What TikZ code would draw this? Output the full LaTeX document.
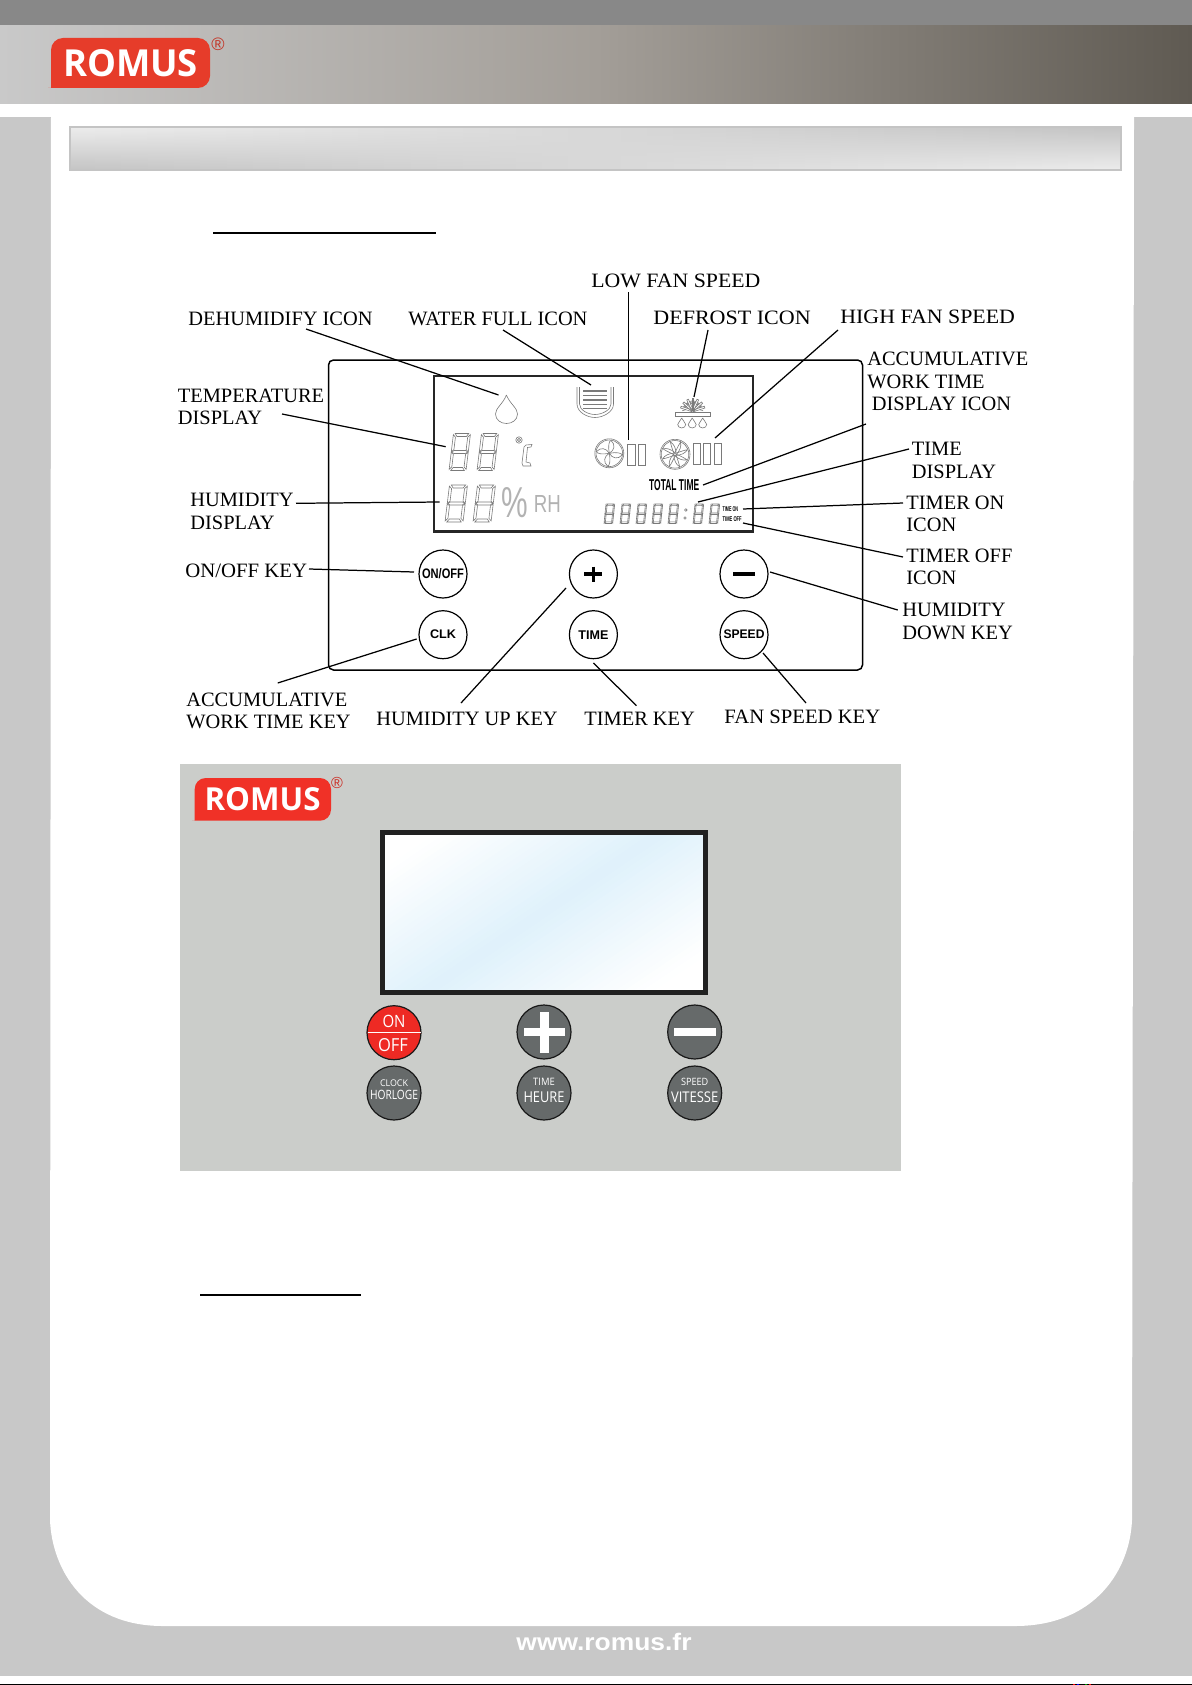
\documentclass[tikz,border=0pt]{standalone}
\usepackage{fontspec}
\usepackage{graphicx}
\setmainfont{Liberation Serif}
\newfontfamily\lsans{Liberation Sans}
\newfontfamily\osans{Open Sans}
\definecolor{pageGray}{HTML}{C8C8C8}
\definecolor{topBar}{HTML}{888888}
\definecolor{headL}{HTML}{C9C9C9}
\definecolor{headM}{HTML}{A39E98}
\definecolor{headR}{HTML}{5F5A52}
\definecolor{barLight}{HTML}{ECECEC}
\definecolor{barDark}{HTML}{C4C4C4}
\definecolor{logoA}{HTML}{E63C2A}
\definecolor{logoB}{HTML}{F03127}
\definecolor{panelGray}{HTML}{CBCDCA}
\definecolor{keyGray}{HTML}{666A6A}
\definecolor{keyRed}{HTML}{EE2A24}
\definecolor{lcdBlue}{HTML}{DFF1FB}
\definecolor{segGray}{HTML}{7A7A7A}
\newcommand\fitbox[3]{\resizebox{\dimexpr #1pt*1/2\relax}{\dimexpr #2pt*1/2\relax}{#3}}
\newcommand\lcddigit[5]{%
\begin{scope}[shift={(#1+#5,#2)},x={(#3*.5pt,0pt)},y={(-#5*.5pt,-#4*.5pt)}]
\draw[segline] (.1,0)--(.9,0)--(.78,.08)--(.22,.08)--cycle;
\draw[segline] (0,.03)--(.14,.1)--(.14,.44)--(0,.49)--cycle;
\draw[segline] (1,.03)--(.86,.1)--(.86,.44)--(1,.49)--cycle;
\draw[segline] (.03,.5)--(.16,.46)--(.84,.46)--(.97,.5)--(.84,.54)--(.16,.54)--cycle;
\draw[segline] (0,.51)--(.14,.56)--(.14,.9)--(0,.97)--cycle;
\draw[segline] (1,.51)--(.86,.56)--(.86,.9)--(1,.97)--cycle;
\draw[segline] (.1,1)--(.9,1)--(.78,.92)--(.22,.92)--cycle;
\end{scope}}
\newcommand\smalldrop[2]{%
\draw[segline] (#1,#2) .. controls (#1-1,#2+3) and (#1-4,#2+4.5) .. (#1-4,#2+6.5) .. controls (#1-4,#2+8.5) and (#1-2,#2+10) .. (#1,#2+10) .. controls (#1+2,#2+10) and (#1+4,#2+8.5) .. (#1+4,#2+6.5) .. controls (#1+4,#2+4.5) and (#1+1,#2+3) .. (#1,#2);}
\tikzset{
  lbl/.style={anchor=west,inner sep=0pt,align=left,yshift=-.5pt,font=\fontsize{10.2}{11.25}\selectfont},
  conn/.style={draw=black,line width=.62pt},
  segline/.style={draw=segGray,line width=.3pt},
  keyUp/.style={circle,draw=black,line width=.6pt,fill=white,minimum size=24pt,inner sep=0pt,font=\lsans\bfseries},
  keyLow/.style={circle,draw=black!90,line width=.6pt,fill=keyGray,minimum size=27pt,inner sep=0pt},
  keyText/.style={inner sep=0pt,text=white,font=\osans},
  bar/.style={draw=segGray,line width=.65pt},
  rule/.style={draw=black,line width=1pt},
}
\begin{document}
\begin{tikzpicture}[x=.5pt,y=-.5pt]
\useasboundingbox (0,0) rectangle (1192,1685);
% page furniture
\fill[white] (0,0) rectangle (1192,1685);
\fill[topBar] (0,0) rectangle (1192,26);
\shade[left color=headL,right color=headM] (0,26) rectangle (596,104);
\shade[left color=headM,right color=headR] (596,26) rectangle (1192,104);
\fill[pageGray] (0,117) rectangle (1192,1676);
\fill[white] (51,117) -- (1134,117) -- (1132,1520) .. controls (1130,1570) and (1095,1626) .. (1015,1626) -- (163,1626) .. controls (85,1626) and (52,1570) .. (50,1520) -- cycle;
\fill[black] (0,1683.5) rectangle (1192,1685);
\fill[red] (1073,1683.5) rectangle (1074.5,1685);
\fill[blue] (1077,1683.5) rectangle (1078.5,1685);
\fill[green!60!black] (1085,1683.5) rectangle (1086.5,1685);
\fill[red] (1089,1683.5) rectangle (1090.5,1685);
% title bar
\foreach \i in {0,...,39}{
  \pgfmathsetmacro\xa{69+\i*26.3}
  \pgfmathsetmacro\xb{\xa+27}
  \pgfmathsetmacro\pc{100*(1-\i/39)}
  \shade[top color=barLight!\pc!barDark,bottom color=barDark!\pc!barLight] (\xa,127) rectangle (\xb,170);
}
\draw[barDark,line width=1pt] (70,127) rectangle (1120.5,170);
% logo top
\fill[logoA,rounded corners=6pt] (51,75) -- (51,38) -- (210,38) -- (210,88) -- (60,88) [sharp corners] -- (51,88) -- cycle;
\node[inner sep=0pt,text=white,font=\osans\bfseries] (logoTop) at (130.5,63.5) {\fitbox{135}{27}{ROMUS}};
\node[inner sep=0pt,text=logoA!85!black,font=\lsans\fontsize{9}{9}\selectfont] (regTop) at (218,44) {®};
% section rules
\coordinate (ruleAa) at (213,233);
\coordinate (ruleAb) at (436,233);
\draw[rule] (ruleAa) -- (ruleAb);
\coordinate (ruleBa) at (200,1295);
\coordinate (ruleBb) at (361,1295);
\draw[rule] (ruleBa) -- (ruleBb);
% control panel
\draw[black,line width=.75pt,rounded corners=2.5pt] (328.5,360) rectangle (862.5,670);
\draw[black!85,line width=1.3pt] (434,376) rectangle (753,531.5);
% digits
\lcddigit{449}{433.5}{17}{37}{4.5}
\lcddigit{477}{433.5}{17}{37}{4.5}
\lcddigit{445}{485}{18}{37}{4.5}
\lcddigit{473}{485}{18}{37}{4.5}
\foreach \dx in {604,620,636,652,668,693,709}{\lcddigit{\dx}{504}{8.7}{19.5}{2}}
\draw[segline] (685.8,510) circle (1.3);
\draw[segline] (685,518) circle (1.3);
% celsius
\draw[segline] (519,440) circle (3.2);
\draw[segline] (519,440) circle (1.6);
\draw[segline] (526,445) -- (532,444.5) -- (531,447) -- (527.5,447.5) -- (526,462) -- (530,463) -- (531,466) -- (523,466) -- (522,463) -- (524,447) -- cycle;
% percent and RH
\node[inner sep=0pt,text=black!30,font=\lsans] (lcdPct) at (515,503) {\fitbox{26.6}{30}{\%}};
\node[inner sep=0pt,text=black!30,font=\lsans] (lcdRH) at (547.3,504.2) {\fitbox{27}{17}{RH}};
% droplet
\draw[segline] (506.4,395) .. controls (503,404) and (495.5,408) .. (495.5,414) .. controls (495.5,420) and (501,423.5) .. (506.4,423.5) .. controls (512,423.5) and (517.5,420) .. (517.5,414) .. controls (517.5,408) and (510,404) .. (506.4,395);
% water tank
\foreach \yy in {391,395.5,400,404.3,408.5}{\draw[bar] (583,\yy) -- (607,\yy);}
\draw[segline] (577,387) -- (577,404) .. controls (577,412) and (587,417.5) .. (595,417.5) .. controls (603,417.5) and (613.5,412) .. (613.5,404) -- (613.5,387);
\draw[segline] (579.5,387) -- (579.5,404) .. controls (579.5,410) and (588,414.5) .. (595,414.5) .. controls (602,414.5) and (611,410) .. (611,404) -- (611,387);
% defrost
\draw[segline] (675.7,412.5) rectangle (710.7,416);
\foreach \a in {-72,-48,-24,0,24,48,72}{
  \begin{scope}[shift={(692.7,411)},rotate=\a]
    \draw[segline] (-.9,0) -- (-.9,-12.5) -- (.9,-12.5) -- (.9,0);
    \draw[segline] (.9,-7) -- (3,-10);
    \draw[segline] (-.9,-7) -- (-3,-10);
  \end{scope}}
\smalldrop{681.7}{418}
\smalldrop{692.2}{418}
\smalldrop{702.7}{418}
% fans
\draw[segline] (609.3,453.3) circle (14.5);
\draw[segline] (609.3,453.3) circle (13.3);
\foreach \a in {20,110,200,290}{
  \begin{scope}[shift={(609.3,453.3)},rotate=\a]
    \draw[segline] (0,0) .. controls (1,-7) and (4,-12) .. (6,-11.5) .. controls (9,-6) and (6,-1) .. (0,0);
  \end{scope}}
\draw[segline] (675,454.3) circle (15);
\draw[segline] (675,454.3) circle (13.8);
\draw[segline] (675,454.3) circle (1.6);
\foreach \a in {0,45,...,315}{
  \begin{scope}[shift={(675,454.3)},rotate=\a]
    \draw[segline] (0,-1.6) .. controls (2,-6) and (4,-10) .. (5.5,-12) .. controls (6.5,-8) and (5,-4) .. (1.6,0);
  \end{scope}}
\foreach \xa/\xb in {627.7/635,638.3/645.7}{\draw[segline] (\xa,444.3) rectangle (\xb,465.7);}
\foreach \xa/\xb in {693.3/700.7,703.3/710.7,714/721.3}{\draw[segline] (\xa,443) rectangle (\xb,464);}
% LCD texts
\node[inner sep=0pt,font=\lsans\bfseries] (lcdTotal) at (674.2,485.5) {\fitbox{50}{11}{TOTAL TIME}};
\node[inner sep=0pt,font=\lsans\bfseries] (lcdOn) at (730.4,509) {\fitbox{15.5}{4.8}{TIME ON}};
\node[inner sep=0pt,font=\lsans\bfseries] (lcdOff) at (732.2,519.5) {\fitbox{19}{4.8}{TIME OFF}};
% keys
\node[keyUp] (kOnOff) at (443,574) {\fitbox{42}{10}{ON/OFF}};
\node[keyUp] (kPlus) at (593.4,574) {};
\node[keyUp] (kMinus) at (744,574) {};
\node[keyUp] (kClk) at (443,634.7) {\fitbox{26}{8.7}{CLK}};
\node[keyUp] (kTime) at (593.4,634.7) {\fitbox{30}{8.7}{TIME}};
\node[keyUp] (kSpeed) at (744,634.7) {\fitbox{41}{8.7}{SPEED}};
\draw[black,line width=1.7pt] (584.4,574) -- (602.4,574) (593.4,566.5) -- (593.4,581.5);
\draw[black,line width=1.7pt] (733,574) -- (755,574);
% labels
\node[lbl] (tLow) at (591,280) {\scalebox{1.068}[1]{LOW FAN SPEED}};
\node[lbl] (tDehum) at (188,318) {DEHUMIDIFY ICON};
\node[lbl] (tWater) at (408,318) {WATER FULL ICON};
\node[lbl] (tDefrost) at (653,317) {\scalebox{1.08}[1]{DEFROST ICON}};
\node[lbl] (tHigh) at (840,316) {\scalebox{1.072}[1]{HIGH FAN SPEED}};
\node[lbl] (tAccum) at (867,380.5) {ACCUMULATIVE\\WORK TIME\\\hspace*{2.2pt}DISPLAY ICON};
\node[lbl] (tTimeD) at (911.5,459.5) {TIME\\DISPLAY};
\node[lbl] (tTimerOn) at (906,513) {TIMER ON\\ICON};
\node[lbl] (tTimerOff) at (906,566) {TIMER OFF\\ICON};
\node[lbl] (tHumDown) at (902,620.5) {HUMIDITY\\DOWN KEY};
\node[lbl] (tTemp) at (177.5,406) {TEMPERATURE\\DISPLAY};
\node[lbl] (tHum) at (190,510.5) {HUMIDITY\\DISPLAY};
\node[lbl] (tOnOff) at (185,570) {\scalebox{1.018}[1]{ON/OFF KEY}};
\node[lbl] (tAccKey) at (186,710) {ACCUMULATIVE\\WORK TIME KEY};
\node[lbl] (tHumUp) at (376,718) {HUMIDITY UP KEY};
\node[lbl] (tTimer) at (584,718) {TIMER KEY};
\node[lbl] (tFan) at (724,716) {\scalebox{1.014}[1]{FAN SPEED KEY}};
% connector ends
\coordinate (dehumA) at (306,329);
\coordinate (dehumB) at (498.5,395);
\coordinate (waterA) at (503,330);
\coordinate (waterB) at (591,385);
\coordinate (lowA) at (628.5,292);
\coordinate (lowB) at (628.5,440);
\coordinate (defA) at (708,330);
\coordinate (defB) at (694,397);
\coordinate (highA) at (838,330);
\coordinate (highB) at (715,438);
\coordinate (accA) at (866,424);
\coordinate (accB) at (703,485);
\coordinate (timeA) at (909,449);
\coordinate (timeB) at (698,502);
\coordinate (onA) at (903,503);
\coordinate (onB) at (743,509);
\coordinate (offA) at (903,557);
\coordinate (offB) at (743,523);
\coordinate (tempA) at (282,414);
\coordinate (tempB) at (445.7,446.7);
\coordinate (humA) at (296,503.3);
\coordinate (humB) at (439.6,502);
\coordinate (kOnOffE) at (309,569);
\coordinate (kOnOffP) at (414,572);
\coordinate (clkA) at (277.7,683);
\coordinate (clkB) at (416.6,639);
\coordinate (plusA) at (461,703);
\coordinate (plusB) at (566,588);
\coordinate (timerA) at (636.5,705.7);
\coordinate (timerB) at (593.4,663);
\coordinate (minusA) at (897.7,610);
\coordinate (minusB) at (770,572);
\coordinate (speedA) at (806,703);
\coordinate (speedB) at (763,653);
\foreach \a/\b in {dehumA/dehumB,waterA/waterB,lowA/lowB,defA/defB,highA/highB,accA/accB,timeA/timeB,onA/onB,offA/offB,tempA/tempB,humA/humB,kOnOffE/kOnOffP,clkA/clkB,plusA/plusB,timerA/timerB,minusA/minusB,speedA/speedB}{\draw[conn] (\a) -- (\b);}
% lower panel
\fill[panelGray] (179.5,764) rectangle (901,1170.5);
\fill[logoB,rounded corners=5.5pt] (194.7,810) -- (194.7,778) -- (331,778) -- (331,820.7) -- (203,820.7) [sharp corners] -- (194.7,820.7) -- cycle;
\node[inner sep=0pt,text=white,font=\osans\bfseries] (logoLow) at (262.5,799.5) {\fitbox{116}{23}{ROMUS}};
\node[inner sep=0pt,text=logoB!85!black,font=\lsans\fontsize{8}{8}\selectfont] (regLow) at (337,782.7) {®};
% screen
\fill[white] (383,833) rectangle (705,992);
\begin{scope}
  \clip (383,833) rectangle (705,992);
  \begin{scope}[shift={(544,912)},rotate=34]
    \foreach \k in {-25,...,24}{
      \pgfmathsetmacro\ya{\k*5}
      \pgfmathsetmacro\yb{\ya+6}
      \pgfmathsetmacro\pc{100*(1-abs(\k+.5)/25)}
      \fill[lcdBlue!\pc!white] (-400,\ya) rectangle (400,\yb);
    }
  \end{scope}
\end{scope}
\draw[black!87,line width=2.4pt] (382.5,832.5) rectangle (705.7,992.2);
% lower keys
\node[keyLow,fill=keyRed] (pOnOff) at (394,1032.7) {};
\node[keyLow] (pPlus) at (544,1032) {};
\node[keyLow] (pMinus) at (694.7,1032) {};
\node[keyLow] (pClk) at (394,1093) {};
\node[keyLow] (pTime) at (544,1093) {};
\node[keyLow] (pSpeed) at (694.7,1093) {};
\draw[white,line width=.5pt] (367.5,1032.7) -- (420.5,1032.7);
\fill[white] (523.5,1027.5) rectangle (565,1036);
\fill[white] (539.5,1012) rectangle (549,1052.5);
\fill[white] (674.3,1027.5) rectangle (715.5,1036);
\node[keyText] (tON) at (394,1021) {\fitbox{23}{12.3}{ON}};
\node[keyText] (tOFF) at (393,1045) {\fitbox{30}{13}{OFF}};
\node[keyText] (tCLOCK) at (394,1082.7) {\fitbox{28}{6.7}{CLOCK}};
\node[keyText] (tHORL) at (394,1095.3) {\fitbox{48}{9.3}{HORLOGE}};
\node[keyText] (tTIME) at (544,1082.3) {\fitbox{21.7}{7.3}{TIME}};
\node[keyText] (tHEURE) at (544,1097) {\fitbox{41}{10.7}{HEURE}};
\node[keyText] (tSPEED) at (694.7,1081.7) {\fitbox{27.3}{7.3}{SPEED}};
\node[keyText] (tVIT) at (694.7,1097) {\fitbox{47.3}{10.7}{VITESSE}};
% footer
\node[inner sep=0pt,text=white,font=\lsans\bfseries] (footer) at (604,1642) {\fitbox{175}{17.3}{www.romus.fr}};
\end{tikzpicture}
\end{document}
